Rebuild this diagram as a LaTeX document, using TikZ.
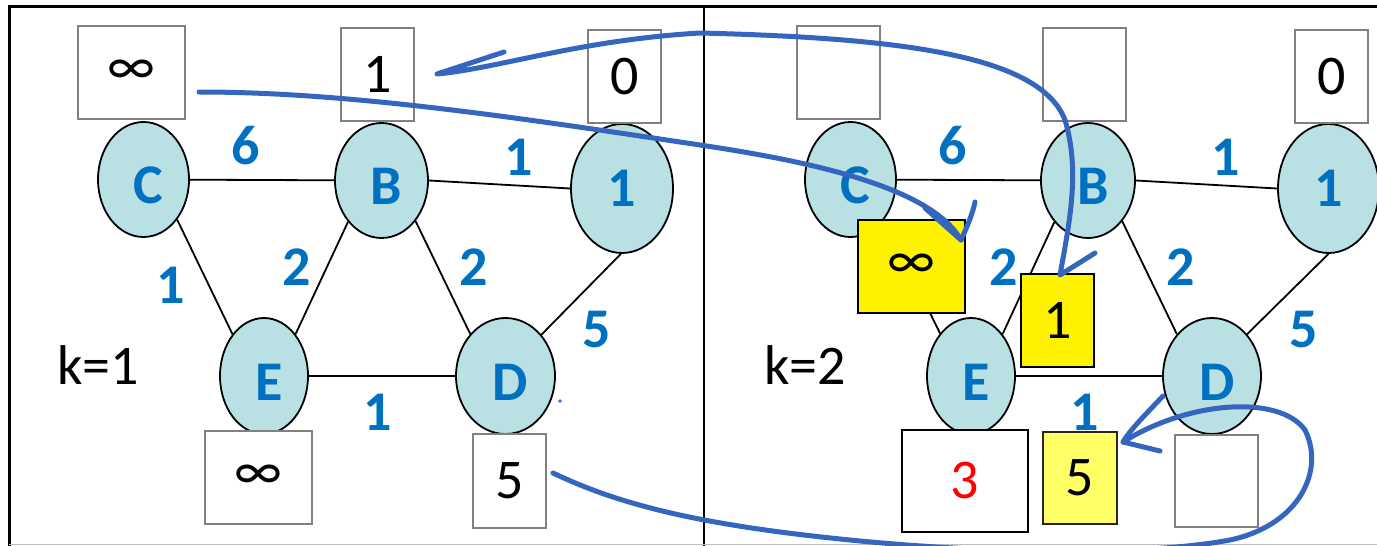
\documentclass[tikz,border=0pt]{standalone}
\usepackage{fontspec}
\setmainfont{Carlito}
\usetikzlibrary{shapes.geometric}
\definecolor{vfill}{RGB}{185,224,227}
\definecolor{vblue}{RGB}{0,112,192}
\definecolor{penblue}{RGB}{52,101,191}
\definecolor{boxgray}{RGB}{128,128,128}
\definecolor{lyellow}{RGB}{255,255,102}
\newcommand\bigfnt{\fontsize{56}{60}\selectfont}
\begin{document}
\begin{tikzpicture}[x=1pt,y=-1pt,
  vtx/.style={ellipse,draw=black,line width=1.8pt,fill=vfill,inner sep=0pt},
  lbl/.style={text=vblue,font=\bigfnt\bfseries,inner sep=0pt,xshift=5pt,yshift=-6pt},
  lblz/.style={text=vblue,font=\bigfnt\bfseries,inner sep=0pt},
  link/.style={line width=1.8pt},
  vbox/.style={rectangle,draw=boxgray,line width=2pt,fill=white,inner sep=0pt,font=\bigfnt},
  ybox/.style={rectangle,draw=black,line width=2pt,fill=yellow,inner sep=0pt,font=\bigfnt},
  wt/.style={text=vblue,font=\bigfnt\bfseries,inner sep=0pt},
  ktext/.style={font=\bigfnt,inner sep=0pt},
  ink/.style={draw=penblue,line width=5pt,line cap=round,line join=round}]
\useasboundingbox (0,0) rectangle (1377,546);
\clip (0,0) rectangle (1377,546);
% frame
\draw[line width=3pt] (9,546) -- (9,6) -- (1377,6);
\draw[line width=2.5pt] (704,6) -- (704,546);
\draw[black!25,line width=1.5pt] (9,544.5) -- (1377,544.5);

% ---------- left panel ----------
\node[vtx,minimum width=91pt,minimum height=115pt,label={[lbl]center:C}] (C) at (143.5,179.5) {};
\node[vtx,minimum width=93pt,minimum height=115pt,label={[lbl]center:B}] (B) at (381.5,180.5) {};
\node[vtx,minimum width=102pt,minimum height=129pt,label={[lblz]center:1}] (N) at (622,188.5) {};
\node[vtx,minimum width=88pt,minimum height=116pt,label={[lbl]center:E}] (E) at (264,376) {};
\node[vtx,minimum width=99pt,minimum height=116pt,label={[lbl]center:D}] (D) at (505.5,376) {};
\draw[link] (C) -- (B);
\draw[link] (B.east) -- (N.west);
\draw[link] (C.-50) -- (E.127);
\draw[link] (E.53) -- (B.-129);
\draw[link] (B.-50) -- (D.130);
\draw[link] (N.-91) -- (D.49);
\draw[link] (E) -- (D);
\node[vbox,minimum width=107pt,minimum height=93pt] (lc) at (131.5,72.5) {∞};
\node[vbox,minimum width=73pt,minimum height=93pt] (lb) at (377.5,74.5) {1};
\node[vbox,minimum width=73pt,minimum height=93pt] (ln) at (624.5,76.5) {0};
\node[vbox,minimum width=107pt,minimum height=93pt] (le) at (258.5,477.5) {∞};
\node[vbox,minimum width=73pt,minimum height=94pt] (ld) at (509.5,481) {5};
\node[wt] (w1) at (246,146) {6};
\node[wt] (w2) at (519,157.5) {1};
\node[wt] (w3) at (171,285) {1};
\node[wt] (w4) at (297,267) {2};
\node[wt] (w5) at (474,267) {2};
\node[wt] (w6) at (597,330) {5};
\node[wt] (w7) at (378,412) {1};
\node[ktext] (k1) at (98,365.5) {k=1};
\fill[penblue] (560,401) circle (1.8);

% ---------- right panel ----------
\node[vtx,minimum width=91pt,minimum height=115pt,label={[lbl]center:C}] (C2) at (850.5,179.5) {};
\node[vtx,minimum width=94pt,minimum height=115pt,label={[lbl]center:B}] (B2) at (1088,180.5) {};
\node[vtx,minimum width=101pt,minimum height=129pt,label={[lblz]center:1}] (N2) at (1328.5,188.5) {};
\node[vtx,minimum width=88pt,minimum height=116pt,label={[lbl]center:E}] (E2) at (971,376) {};
\node[vtx,minimum width=98pt,minimum height=116pt,label={[lbl]center:D}] (D2) at (1212,376) {};
\draw[link] (C2) -- (B2);
\draw[link] (B2.east) -- (N2.west);
\draw[link] (C2.-50) -- (E2.126);
\draw[link] (E2.53) -- (B2.-129);
\draw[link] (B2.-50) -- (D2.130);
\draw[link] (N2.-90) -- (D2.50);
\draw[link] (E2) -- (D2);
\node[vbox,minimum width=83pt,minimum height=93pt] (rc) at (838.5,72.5) {};
\node[vbox,minimum width=83pt,minimum height=93pt] (rb) at (1084.5,74.5) {};
\node[vbox,minimum width=73pt,minimum height=93pt] (rn) at (1331.5,76.5) {0};
\node[ybox,minimum width=107pt,minimum height=93pt] (yc) at (911.5,266.5) {∞};
\node[ybox,minimum width=73pt,minimum height=93pt] (yb) at (1057.5,320) {1};
\node[vbox,draw=black,minimum width=126pt,minimum height=102pt] (re) at (965,481) {\textcolor{red}{3}};
\node[ybox,fill=lyellow,draw=black!85,minimum width=74pt,minimum height=92pt] (yd) at (1080,478) {5};
\node[vbox,minimum width=83pt,minimum height=92pt] (rd) at (1216.5,481) {};
\node[wt] (v1) at (953,146) {6};
\node[wt] (v2) at (1226,157.5) {1};
\node[wt] (v4) at (1004,267) {2};
\node[wt] (v5) at (1181,267) {2};
\node[wt] (v6) at (1304,330) {5};
\node[wt] (v7) at (1085,412) {1};
\node[ktext] (k2) at (805,365.5) {k=2};

% ---------- pen strokes ----------
\coordinate (p1s) at (199,92);
\coordinate (p1t) at (961,240);
\draw[ink] (p1s) .. controls (350,92) and (520,118) .. (700,145) .. controls (800,160) and (930,185) .. (p1t);
\draw[ink] (925,208) -- (p1t) .. controls (968,225) and (973,212) .. (975,202);
\coordinate (p2s) at (437,74);
\coordinate (p2t) at (1060,275);
\draw[ink] (504,52) -- (p2s) .. controls (500,68) and (580,40) .. (700,33) .. controls (900,38) and (1040,55) .. (1065,120) .. controls (1080,170) and (1070,220) .. (p2t) -- (1095,253);
\coordinate (p3s) at (553,473);
\coordinate (p3t) at (1123,442);
\draw[ink] (p3s) .. controls (620,505) and (700,525) .. (850,540) .. controls (1000,555) and (1150,555) .. (1230,540) .. controls (1300,525) and (1325,470) .. (1305,430) .. controls (1280,395) and (1190,400) .. (p3t);
\draw[ink] (1163,396) .. controls (1145,415) and (1130,430) .. (p3t) -- (1160,451);
\end{tikzpicture}
\end{document}
